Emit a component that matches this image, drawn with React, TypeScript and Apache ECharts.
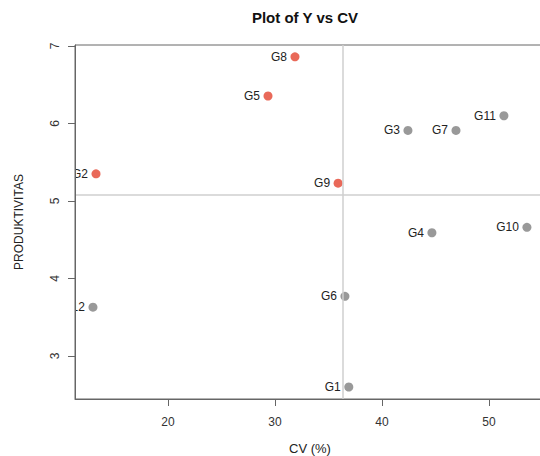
import React, { useEffect, useRef } from "react";
import * as echarts from "echarts";

const names = ["G1", "G2", "G3", "G4", "G5", "G6", "G7", "G8", "G9", "G10", "G11", "G12"];
const cv = [36.9, 13.27, 42.43, 44.67, 29.35, 36.54, 46.92, 31.87, 35.9, 53.55, 51.4, 12.99];
const produktivitas = [2.6, 5.35, 5.91, 4.59, 6.355, 3.77, 5.91, 6.86, 5.23, 4.66, 6.1, 3.63];
const xTicks = [20, 30, 40, 50];
const yTicks = [3, 4, 5, 6, 7];

const FONT = "'Liberation Sans', Arial, Helvetica, sans-serif";

export default function App() {
  const ref = useRef<HTMLDivElement>(null);
  useEffect(() => {
    if (!ref.current) return;
    const chart = echarts.init(ref.current, undefined, { renderer: "svg" });
    const meanX = cv.reduce((a, b) => a + b, 0) / cv.length;
    const meanY = produktivitas.reduce((a, b) => a + b, 0) / produktivitas.length;
    const data = names.map((n, i) => ({
      name: n,
      value: [cv[i], produktivitas[i]],
      itemStyle: {
        color: cv[i] < meanX && produktivitas[i] > meanY ? "#e4432f" : "#808080",
      },
    }));
    const axisLineStyle = { color: "#666", width: 1 };
    chart.setOption({
      animation: false,
      backgroundColor: "#fff",
      textStyle: { fontFamily: FONT },
      title: {
        text: "Plot of Y vs CV",
        left: 300,
        top: 5,
        textAlign: "center",
        textStyle: { fontFamily: FONT, fontSize: 15, fontWeight: "bold", color: "#111" },
      },
      grid: {
        left: 75,
        top: 45,
        width: 470,
        height: 354,
        containLabel: false,
        outerBoundsMode: "none",
        show: true,
        borderColor: "#666",
        borderWidth: 1,
      },
      xAxis: {
        type: "value",
        min: 11.31,
        max: 55.24,
        z: 10,
        name: "CV (%)",
        nameLocation: "middle",
        nameGap: 43,
        nameTextStyle: { fontFamily: FONT, fontSize: 13, color: "#222" },
        splitLine: { show: false },
        axisLine: { show: true, onZero: false, lineStyle: axisLineStyle },
        axisTick: { show: true, inside: false, length: 7, lineStyle: axisLineStyle, customValues: xTicks },
        axisLabel: {
          fontFamily: FONT,
          fontSize: 12,
          color: "#333",
          margin: 17,
          customValues: xTicks,
        },
      },
      yAxis: {
        type: "value",
        min: 2.445,
        max: 7.013,
        z: 10,
        name: "PRODUKTIVITAS",
        nameLocation: "middle",
        nameGap: 50,
        nameTextStyle: { fontFamily: FONT, fontSize: 12, color: "#222" },
        splitLine: { show: false },
        axisLine: { show: true, onZero: false, lineStyle: axisLineStyle },
        axisTick: { show: true, inside: false, length: 7, lineStyle: axisLineStyle, customValues: yTicks },
        axisLabel: {
          fontFamily: FONT,
          fontSize: 12,
          color: "#333",
          margin: 14,
          rotate: 90,
          customValues: yTicks,
        },
      },
      series: [
        {
          type: "scatter",
          z: 2,
          symbolSize: 9,
          data,
          markLine: {
            silent: true,
            symbol: "none",
            label: { show: false },
            lineStyle: { color: "#cfcfcf", type: "solid", width: 1.5 },
            data: [{ xAxis: meanX }, { yAxis: meanY }],
          },
        },
        {
          type: "custom",
          z: 3,
          clip: true,
          silent: true,
          data: names.map((n, i) => [cv[i], produktivitas[i]]),
          renderItem: (params: any, api: any) => {
            const p = api.coord([api.value(0), api.value(1)]);
            return {
              type: "text",
              x: p[0] - 8,
              y: p[1],
              style: {
                text: names[params.dataIndex],
                align: "right",
                verticalAlign: "middle",
                fontFamily: FONT,
                fontSize: 12,
                fill: "#222",
              },
            };
          },
        },
      ],
    });
    return () => chart.dispose();
  }, []);
  return <div ref={ref} style={{ width: 540, height: 456, position: "absolute", left: 0, top: 0 }} />;
}
